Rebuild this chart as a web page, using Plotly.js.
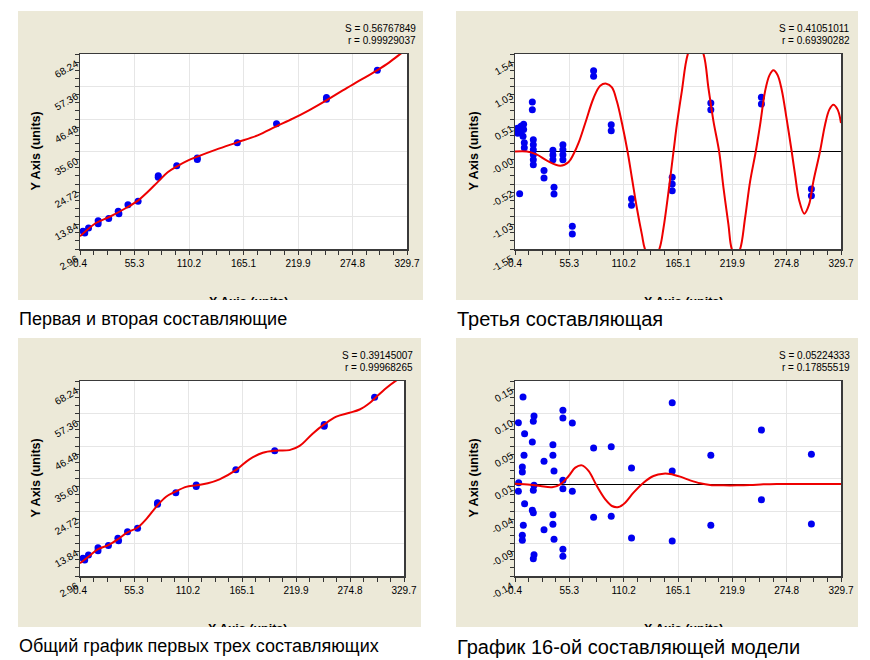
<!DOCTYPE html>
<html>
<head>
<meta charset="utf-8">
<script src="https://cdn.plot.ly/plotly-3.0.1.min.js"></script>
<style>
  body { margin: 0; background: #fff; width: 870px; height: 660px; position: relative; overflow: hidden;
         font-family: "Liberation Sans", Arial, sans-serif; }
  .panel { position: absolute; background: #ECE9D8; overflow: hidden; }
  .caption { position: absolute; font-size: 18px; line-height: 20px; color: #000; white-space: nowrap; }
  .caption.big { font-size: 20px; }
</style>
</head>
<body>
<div id="p1" class="panel" style="left:18px;top:11px;width:405px;height:289px"></div>
<div id="p2" class="panel" style="left:456px;top:11px;width:402px;height:289px"></div>
<div id="p3" class="panel" style="left:18px;top:338px;width:403px;height:289px"></div>
<div id="p4" class="panel" style="left:456px;top:338px;width:402px;height:289px"></div>
<div id="c1" class="caption" style="left:19px;top:309px"></div>
<div id="c2" class="caption big" style="left:457px;top:308.5px"></div>
<div id="c3" class="caption" style="left:19px;top:636px"></div>
<div id="c4" class="caption big" style="left:457px;top:636.5px"></div>
<script>
(function () {
    'use strict';
    const FONT = '"Liberation Sans", Arial, sans-serif';

    // observed series (panels 1 and 3)
    const obsX = [3.5, 5.2, 9.0, 18.7, 18.7, 29.3, 38.9, 39.6, 48.7, 58.9, 79.2, 79.2, 97.8,
                  118.5, 118.5, 158.8, 198.3, 248.6, 248.6, 299.8];
    const obsY = [8.87, 8.32, 10.0, 12.45, 11.4, 13.2, 15.57, 14.73, 17.8, 18.95, 27.5, 26.95, 30.86,
                  33.4, 32.9, 38.55, 44.85, 53.7, 53.1, 62.8];

    // model: first and second components
    const fit12X = [0.4, 16.5, 29.9, 46.7, 59.1, 68.5, 79.3, 88.7, 98.1, 108.8, 118.6, 137.4, 158.8,
                    179.3, 198.1, 214.6, 231.4, 248.5, 265.0, 281.7, 299.5, 311.9, 323.7, 329.7];
    const fit12Y = [7.20, 11.66, 13.67, 16.69, 19.25, 22.04, 25.61, 28.63, 30.63, 32.53, 33.87, 36.21, 38.67,
                    41.01, 44.03, 46.59, 49.49, 52.73, 56.08, 59.31, 62.77, 65.45, 68.46, 70.0];

    // model: first three components
    const fit123X = [0.4, 9.9, 18.4, 29.2, 38.7, 48.2, 58.7, 67.5, 79.1, 87.9, 97.4, 108.2, 118.4, 130.3,
                     142.2, 158.8, 172.6, 186.2, 198.5, 213.3, 223.6, 237.1, 248.6, 260.9, 274.4, 284.6,
                     294.8, 300.2, 311.7, 323.6, 329.7];
    const fit123Y = [7.2, 9.65, 11.9, 13.3, 15.2, 17.5, 19.1, 21.9, 26.6, 29.5, 31.2, 32.8, 33.3, 34.0,
                     35.3, 38.4, 42.0, 44.2, 44.9, 45.1, 46.5, 50.7, 53.7, 56.3, 57.6, 58.7,
                     60.9, 62.5, 65.9, 68.8, 70.0];

    // residuals and third component
    const res3X = [3.1, 3.1, 6.5, 6.5, 9.1, 9.1, 8.5, 9.8, 9.8, 5.1,
                   17.9, 17.9, 18.9, 18.9, 18.9, 18.9, 18.9, 18.9, 29.7, 29.7,
                   38.7, 38.7, 38.7, 39.8, 39.8, 48.8, 48.8, 48.8, 48.8, 58.3, 58.3,
                   79.8, 79.8, 97.6, 97.6, 118.1, 118.1, 159.2, 159.2, 159.2,
                   198.2, 198.2, 249.3, 249.3, 299.8, 299.8];
    const res3Y = [0.37, 0.29, 0.40, 0.32, 0.43, 0.35, 0.24, 0.14, 0.06, -0.67,
                   0.785, 0.663, 0.188, 0.108, 0.029, -0.05, -0.129, -0.208, -0.303, -0.42,
                   0.02, -0.055, -0.13, -0.568, -0.673, 0.108, 0.029, -0.05, -0.129, -1.186, -1.307,
                   1.281, 1.191, 0.425, 0.330, -0.747, -0.853, -0.409, -0.515, -0.621,
                   0.768, 0.663, 0.858, 0.753, -0.594, -0.70];
    const comp3X = [0.4, 12.5, 22.6, 32.7, 46.1, 54.6, 59.6, 64.6, 71.4, 79.8, 86.5, 92.6, 98.3, 103.3,
                    108.4, 114.1, 118.5, 123.5, 128.6, 131.9, 139.0, 146.0, 150.4, 155.5, 160.5, 163.9,
                    168.9, 175.0, 182.7, 190.8, 195.8, 200.9, 206.6, 211.0, 216.0, 219.4, 223.7, 227.8,
                    232.8, 237.9, 243.6, 248.0, 253.0, 257.4, 261.4, 265.5, 269.8, 274.9, 279.9, 283.3,
                    287.3, 292.7, 297.4, 301.8, 308.5, 313.6, 317.9, 322.0, 326.3, 329.7];
    const comp3Y = [0, 0, -0.05, -0.145, -0.225, -0.166, -0.04, 0.135, 0.452, 0.848, 1.043, 1.075, 1.017, 0.795,
                    0.452, 0, -0.42, -0.895, -1.318, -1.556, -1.73, -1.556, -1.212, -0.631, 0, 0.425,
                    0.953, 1.545, 1.80, 1.545, 1.006, 0.478, 0, -0.578, -1.159, -1.545, -1.65, -1.545,
                    -1.054, -0.473, 0, 0.425, 0.953, 1.207, 1.286, 1.217, 0.98, 0.504, 0, -0.367,
                    -0.763, -0.985, -0.843, -0.473, 0, 0.425, 0.663, 0.742, 0.663, 0.452];

    // 16th component
    const res16X = [3.8, 4.1, 3.8,
                    8.5, 10.1, 9.5, 7.8, 7.8, 10.1, 8.8, 7.8, 7.8,
                    19.6, 18.9, 17.9, 19.6, 18.9, 17.9, 18.9, 19.6, 18.9,
                    29.7, 29.7,
                    38.7, 38.7, 39.8, 38.7, 38.7, 39.8,
                    48.8, 48.8, 48.8, 48.8, 48.8, 48.8,
                    58.3, 58.3, 79.8, 79.8, 97.6, 97.6, 118.1, 118.1,
                    159.2, 159.2, 159.2, 198.2, 198.2, 249.3, 249.3, 299.8, 299.8];
    const res16Y = [0.0907, 0.0020, -0.0107,
                    0.1286, 0.0744, 0.0424, 0.0252, 0.0178, -0.0290, -0.0610, -0.0757, -0.0831,
                    0.1005, 0.0926, 0.0621, -0.0019, -0.0092, -0.0388, -0.0422, -0.1043, -0.1102,
                    0.0336, -0.0674,
                    0.0582, 0.0424, 0.0193, -0.0452, -0.0595, -0.0816,
                    0.109, 0.0976, 0.0055, -0.0068, -0.0964, -0.1067,
                    0.0902, -0.0107, 0.0532, -0.0492, 0.0552, -0.0477, 0.0237, -0.0797,
                    0.1202, 0.0193, -0.0841, 0.0424, -0.0610, 0.0798, -0.0231, 0.0439, -0.0590];
    const comp16X = [0.4, 15.9, 26.0, 37.7, 46.1, 54.6, 61.3, 68.0, 74.7, 83.1, 91.6, 98.3, 105.0, 111.7,
                     120.1, 130.2, 140.3, 150.4, 157.1, 167.2, 177.3, 187.4, 197.5, 211.0, 224.4, 237.9,
                     251.3, 264.8, 329.7];
    const comp16Y = [0.0005, -0.0009, -0.0029, -0.0048, -0.0004, 0.0119, 0.0242, 0.0276, 0.0193, -0.0029,
                     -0.0226, -0.0324, -0.0339, -0.0275, -0.0127, 0.0020, 0.0119, 0.0153, 0.0148, 0.0109,
                     0.0055, 0.0011, -0.0014, -0.0019, -0.0019, -0.0014, -0.0004, 0.0001, 0.0001];

    // axes and labels
    const xRange = [0.4, 329.7];
    const xTickText = ['0.4', '55.3', '110.2', '165.1', '219.9', '274.8', '329.7'];
    const yRange1 = [2.96, 68.24];
    const yTickText1 = ['2.96', '13.84', '24.72', '35.60', '46.48', '57.36', '68.24'];
    const yRange2 = [-1.545, 1.545];
    const yTickText2 = ['-1.55', '-1.03', '-0.52', '-0.00', '0.51', '1.03', '1.54'];
    const yRange4 = [-0.1358, 0.1522];
    const yTickText4 = ['-0.14', '-0.09', '-0.04', '0.01', '0.05', '0.10', '0.15'];

    const stats = [
        ['S = 0.56767849', 'r = 0.99929037'],
        ['S = 0.41051011', 'r = 0.69390282'],
        ['S = 0.39145007', 'r = 0.99968265'],
        ['S = 0.05224333', 'r = 0.17855519']
    ];
    const captions = [
        'Первая и вторая составляющие',
        'Третья составляющая',
        'Общий график первых трех составляющих',
        'График 16-ой составляющей модели'
    ];

    // 6 equal intervals between the range ends
    const evenTicks = function (r) {
        const out = [];
        for (let k = 0; k <= 6; k++) out.push(r[0] + k * (r[1] - r[0]) / 6);
        return out;
    };

    const axisBase = function (r, text) {
        return {
            range: r, tickmode: 'array', tickvals: evenTicks(r), ticktext: text,
            ticks: 'outside', ticklen: 4, tickwidth: 1, tickcolor: '#333',
            minor: { tick0: r[0], dtick: (r[1] - r[0]) / 24, ticks: 'outside', ticklen: 4,
                     tickwidth: 1, tickcolor: '#333', showgrid: false },
            showline: true, linecolor: '#3a3a3a', linewidth: 1.5, mirror: true,
            showgrid: true, gridcolor: '#e6e6e6', gridwidth: 1,
            zeroline: false, automargin: false, fixedrange: true,
            tickfont: { family: FONT, size: 10, color: '#000' }
        };
    };

    const titleFont = { family: FONT, size: 12.5, weight: 'bold', color: '#000' };
    const smallFont = { family: FONT, size: 10, color: '#000' };

    const plot = function (id, w, h, ml, yr, ytext, zero, traces, st) {
        const xaxis = axisBase(xRange, xTickText);
        const yaxis = axisBase(yr, ytext);
        // rotated labels sit a little below their ticks, as in the original
        yaxis.tickangle = -30;
        yaxis.ticklabelshift = 9;
        yaxis.ticklabelstandoff = -4;
        yaxis.zeroline = zero;
        yaxis.zerolinecolor = '#000';
        yaxis.zerolinewidth = 1;
        const layout = {
            width: w, height: h,
            margin: { l: ml, r: w - ml - (w === 405 ? 327 : (w === 403 ? 324 : 326)), t: 43, b: 51, pad: 0 },
            paper_bgcolor: '#ECE9D8', plot_bgcolor: '#ffffff',
            showlegend: false,
            font: smallFont,
            xaxis: xaxis, yaxis: yaxis,
            annotations: [
                { text: st[0], xref: 'paper', yref: 'paper', x: 1, y: 1, xanchor: 'right', yanchor: 'middle',
                  xshift: 11, yshift: 25.5, showarrow: false, font: smallFont },
                { text: st[1], xref: 'paper', yref: 'paper', x: 1, y: 1, xanchor: 'right', yanchor: 'middle',
                  xshift: 11, yshift: 14, showarrow: false, font: smallFont },
                // x title is cut by the panel edge in the original
                { text: 'X Axis (units)', xref: 'paper', yref: 'paper', x: 0.5, y: 0, xanchor: 'center',
                  yanchor: 'top', xshift: 5, yshift: -44, showarrow: false, font: titleFont },
                { text: 'Y Axis (units)', xref: 'paper', yref: 'paper', x: 0, y: 0.5, xanchor: 'center',
                  yanchor: 'middle', xshift: -(ml - 17), textangle: -90, showarrow: false, font: titleFont }
            ]
        };
        window.Plotly.newPlot(id, traces, layout, { staticPlot: true, displayModeBar: false });
    };

    const dots = function (x, y) {
        return { x: x, y: y, type: 'scatter', mode: 'markers',
                 marker: { color: '#0000f0', size: 7, line: { width: 0 } } };
    };
    const curve = function (x, y) {
        return { x: x, y: y, type: 'scatter', mode: 'lines',
                 line: { color: '#ee0000', width: 2, shape: 'spline', smoothing: 1 } };
    };

    plot('p1', 405, 289, 62, yRange1, yTickText1, false, [dots(obsX, obsY), curve(fit12X, fit12Y)], stats[0]);
    plot('p2', 402, 289, 59, yRange2, yTickText2, true, [dots(res3X, res3Y), curve(comp3X, comp3Y)], stats[1]);
    plot('p3', 403, 289, 62, yRange1, yTickText1, false, [dots(obsX, obsY), curve(fit123X, fit123Y)], stats[2]);
    plot('p4', 402, 289, 59, yRange4, yTickText4, true, [dots(res16X, res16Y), curve(comp16X, comp16Y)], stats[3]);

    ['c1', 'c2', 'c3', 'c4'].forEach(function (id, i) {
        document.getElementById(id).textContent = captions[i];
    });
}());
</script>
</body>
</html>
